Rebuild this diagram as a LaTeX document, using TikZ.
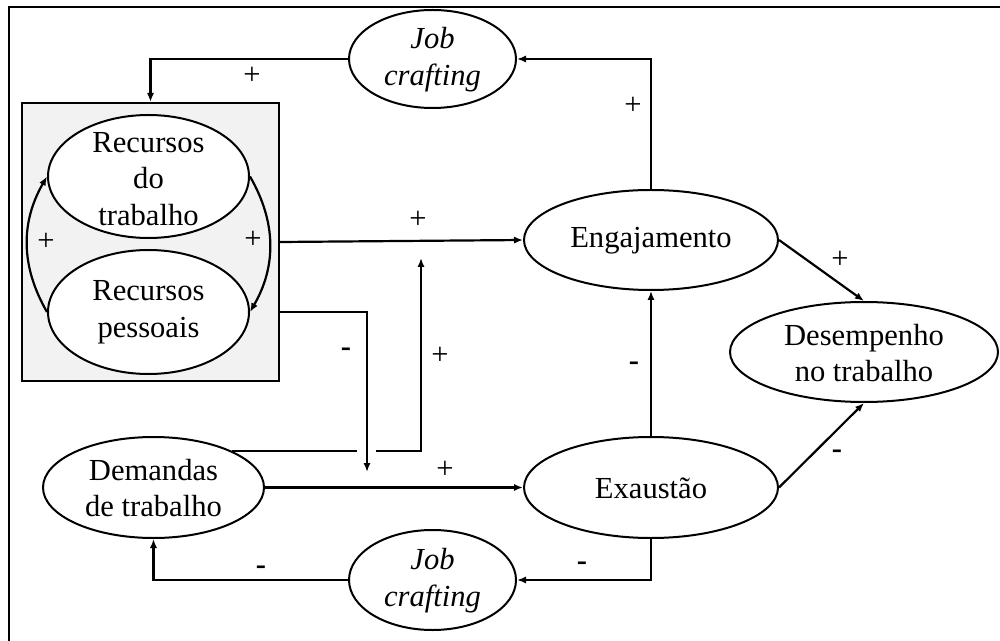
\documentclass[tikz,border=0pt]{standalone}
\usepackage{fontspec}
\setmainfont{Liberation Serif}
\usetikzlibrary{shapes.geometric,arrows.meta}
\tikzset{
  ell/.style={ellipse,draw,line width=1pt,fill=white,inner sep=0pt},
  txt/.style={align=center,inner sep=0pt,font=\fontsize{15.3pt}{18.4pt}\selectfont},
  lab/.style={inner sep=0pt,font=\fontsize{15.3pt}{18.4pt}\selectfont},
  mlab/.style={inner sep=0pt,font=\fontsize{15.3pt}{18.4pt}\selectfont\bfseries},
  con/.style={line width=1.1pt},
  arr/.style={line width=1.1pt,-{Latex[length=4.5pt,width=3.6pt]}}
}
\begin{document}
\begin{tikzpicture}[x=0.5pt,y=0.5pt]
\useasboundingbox (0,0) rectangle (1000,-641);
% frame
\draw[line width=1.2pt] (1000,-7) -- (9,-7) -- (9,-641);
% grey box
\node[draw,line width=1.1pt,fill=gray!10,minimum width=128.5pt,minimum height=139pt,inner sep=0pt] (box) at (150.5,-242) {};
% ellipses
\node[ell,minimum width=100.5pt,minimum height=61.5pt] (rt) at (148.5,-176.5) {};
\node[txt] (rtt) at (148.5,-179) {Recursos\\do\\trabalho};
\node[ell,minimum width=100.5pt,minimum height=62pt] (rp) at (148.5,-312) {};
\node[txt] (rpt) at (148.5,-312) {Recursos\\pessoais};
\node[ell,minimum width=83.5pt,minimum height=49pt] (jc1) at (432.5,-59) {};
\node[txt] (jc1t) at (432.5,-60) {\itshape Job\\\itshape crafting};
\node[ell,minimum width=83.5pt,minimum height=50pt] (jc2) at (432.5,-580) {};
\node[txt] (jc2t) at (432.5,-581) {\itshape Job\\\itshape crafting};
\node[ell,minimum width=127pt,minimum height=50pt] (eng) at (651,-240) {};
\node[txt] (engt) at (651,-241) {Engajamento};
\node[ell,minimum width=127pt,minimum height=50.5pt] (exa) at (651,-487.5) {};
\node[txt] (exat) at (651,-488) {Exaustão};
\node[ell,minimum width=134pt,minimum height=50pt] (des) at (864,-352) {};
\node[txt] (dest) at (864,-353) {Desempenho\\no trabalho};
\node[ell,minimum width=110.5pt,minimum height=50.5pt] (dem) at (153.5,-487.5) {};
\node[txt] (demt) at (153.5,-488) {Demandas\\de trabalho};
% curved arrows in box
\draw[arr] (rp.west) to[out=120,in=240] (rt.west);
\draw[arr] (rt.east) to[out=-60,in=60] (rp.east);
% connectors
\draw[arr] (eng.north) |- (jc1.east);
\draw[arr] (jc1.west) -| (box.north);
\draw[arr] (box.east) -- (eng.west);
\draw[arr] (eng.east) -- (des.north);
\draw[arr] (exa.east) -- (des.south);
\draw[arr] (exa.north) -- (eng.south);
\draw[arr] (dem.east) -- (exa.west);
\draw[arr] (exa.south) |- (jc2.east);
\draw[arr] (jc2.west) -| (dem.south);
% recursos pessoais to interaction
\coordinate (pturn) at (367,-312);
\coordinate (pend) at (367,-472);
\draw[arr] (rp.east -| box.east) -- (pturn) -- (pend);
% demandas to engagement (with gap)
\coordinate (g1) at (357,-452);
\coordinate (g2) at (376,-452);
\coordinate (dturn) at (421,-452);
\coordinate (dend) at (421,-258);
\draw[con] (dem.25) -- (dem.25 -| g1);
\draw[arr] (g2 |- dem.25) -- (dturn |- dem.25) -- (dend);
% labels
\node[lab] (l1) at (252,-76) {+};
\node[lab] (l2) at (633,-106) {+};
\node[lab] (l3) at (46,-242) {+};
\node[lab] (l4) at (253,-240) {+};
\node[lab] (l5) at (418,-220) {+};
\node[lab] (l6) at (840,-260) {+};
\node[mlab] (l7) at (346,-352) {-};
\node[lab] (l8) at (440,-356) {+};
\node[mlab] (l9) at (634,-366) {-};
\node[lab] (l10) at (445,-470) {+};
\node[mlab] (l11) at (837,-454) {-};
\node[mlab] (l12) at (582,-566) {-};
\node[mlab] (l13) at (261,-570) {-};
\end{tikzpicture}
\end{document}
